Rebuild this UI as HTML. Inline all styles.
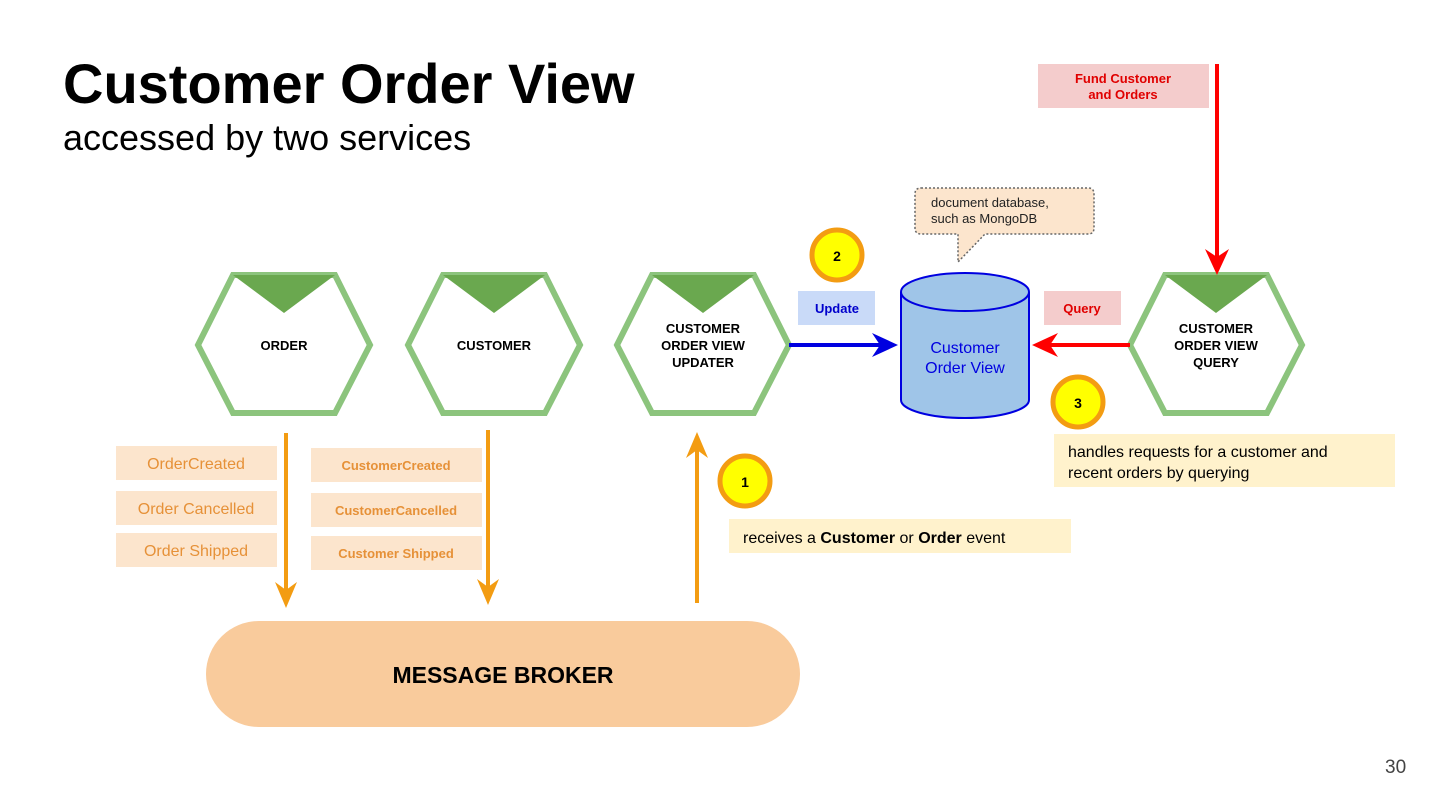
<!DOCTYPE html>
<html><head><meta charset="utf-8"><style>
body{margin:0;background:#fff;}
svg{display:block;font-family:"Liberation Sans",Arial,sans-serif;}
</style></head><body>
<svg width="1440" height="810" viewBox="0 0 1440 810" xmlns="http://www.w3.org/2000/svg">
<text x="63" y="103" font-size="56" font-weight="bold" fill="#000">Customer Order View</text>
<text x="63" y="150" font-size="36" fill="#000">accessed by two services</text>
<text x="1385" y="773" font-size="19" fill="#444">30</text>

<g stroke="#8cc47d" stroke-width="6" fill="#fff">
<polygon points="233,275 335,275 370,345 335,413 233,413 198,345"/>
<polygon points="443,275 545,275 580,345 545,413 443,413 408,345"/>
<polygon points="652,275 754,275 789,345 754,413 652,413 617,345"/>
<polygon points="1165,275 1267,275 1302,345 1267,413 1165,413 1130,345"/>
</g>
<g fill="#6aa84f">
<polygon points="233,275 335,275 284,313"/>
<polygon points="443,275 545,275 494,313"/>
<polygon points="652,275 754,275 703,313"/>
<polygon points="1165,275 1267,275 1216,313"/>
</g>
<g font-size="13" font-weight="bold" text-anchor="middle" fill="#000">
<text x="284" y="350">ORDER</text>
<text x="494" y="350">CUSTOMER</text>
<text x="703" y="333">CUSTOMER</text><text x="703" y="350">ORDER VIEW</text><text x="703" y="367">UPDATER</text>
<text x="1216" y="333">CUSTOMER</text><text x="1216" y="350">ORDER VIEW</text><text x="1216" y="367">QUERY</text>
</g>

<path d="M901,292 L901,400 A64,18 0 0 0 1029,400 L1029,292" fill="#9fc5e8" stroke="#0000e0" stroke-width="2"/>
<ellipse cx="965" cy="292" rx="64" ry="19" fill="#9fc5e8" stroke="#0000e0" stroke-width="2"/>
<text x="965" y="353" font-size="16" fill="#0000e0" text-anchor="middle">Customer</text>
<text x="965" y="373" font-size="16" fill="#0000e0" text-anchor="middle">Order View</text>

<path d="M921,188 L1088,188 Q1094,188 1094,194 L1094,228 Q1094,234 1088,234 L985,234 L958,262 L958,234 L921,234 Q915,234 915,228 L915,194 Q915,188 921,188 Z" fill="#fce5cd" stroke="#666" stroke-width="1.5" stroke-dasharray="2,2"/>
<text x="931" y="207" font-size="13" fill="#222">document database,</text>
<text x="931" y="223" font-size="13" fill="#222">such as MongoDB</text>

<rect x="798" y="291" width="77" height="34" fill="#c9daf8"/>
<text x="837" y="313" font-size="13" font-weight="bold" fill="#0000cc" text-anchor="middle">Update</text>
<line x1="789" y1="345" x2="885" y2="345" stroke="#0000e0" stroke-width="4"/>
<path d="M898,345 L872,333 L880,345 L872,357 Z" fill="#0000e0"/>

<rect x="1044" y="291" width="77" height="34" fill="#f4cccc"/>
<text x="1082" y="313" font-size="13" font-weight="bold" fill="#e00000" text-anchor="middle">Query</text>
<line x1="1130" y1="345" x2="1045" y2="345" stroke="#f00" stroke-width="4"/>
<path d="M1032,345 L1058,333 L1050,345 L1058,357 Z" fill="#f00"/>

<rect x="1038" y="64" width="171" height="44" fill="#f4cccc"/>
<text x="1123" y="83" font-size="13" font-weight="bold" fill="#e00000" text-anchor="middle">Fund Customer</text>
<text x="1123" y="99" font-size="13" font-weight="bold" fill="#e00000" text-anchor="middle">and Orders</text>
<line x1="1217" y1="64" x2="1217" y2="262" stroke="#f00" stroke-width="4"/>
<path d="M1217,275 L1205,249 L1217,257 L1229,249 Z" fill="#f00"/>

<g stroke="#f39c12" stroke-width="5" fill="#ffff00">
<circle cx="837" cy="255" r="25"/>
<circle cx="1078" cy="402" r="25"/>
<circle cx="745" cy="481" r="25"/>
</g>
<g font-size="14" font-weight="bold" text-anchor="middle" fill="#000">
<text x="837" y="261">2</text><text x="1078" y="408">3</text><text x="745" y="487">1</text>
</g>

<rect x="1054" y="434" width="341" height="53" fill="#fff2cc"/>
<text x="1068" y="457" font-size="16" fill="#000">handles requests for a customer and</text>
<text x="1068" y="478" font-size="16" fill="#000">recent orders by querying</text>
<rect x="729" y="519" width="342" height="34" fill="#fff2cc"/>
<text x="743" y="543" font-size="16" fill="#000">receives a <tspan font-weight="bold">Customer</tspan> or <tspan font-weight="bold">Order</tspan> event</text>

<g fill="#fce5cd">
<rect x="116" y="446" width="161" height="34"/><rect x="116" y="491" width="161" height="34"/><rect x="116" y="533" width="161" height="34"/>
<rect x="311" y="448" width="171" height="34"/><rect x="311" y="493" width="171" height="34"/><rect x="311" y="536" width="171" height="34"/>
</g>
<g font-weight="bold" fill="#e69138" text-anchor="middle">
<text x="196" y="469" font-size="16" font-weight="normal">OrderCreated</text>
<text x="196" y="514" font-size="16" font-weight="normal">Order Cancelled</text>
<text x="196" y="556" font-size="16" font-weight="normal">Order Shipped</text>
<text x="396" y="470" font-size="13">CustomerCreated</text>
<text x="396" y="515" font-size="13">CustomerCancelled</text>
<text x="396" y="558" font-size="13">Customer Shipped</text>
</g>

<g stroke="#f39c12" stroke-width="4">
<line x1="286" y1="433" x2="286" y2="595"/>
<line x1="488" y1="430" x2="488" y2="592"/>
<line x1="697" y1="603" x2="697" y2="445"/>
</g>
<path d="M286,608 L275,582 L286,590 L297,582 Z" fill="#f39c12"/>
<path d="M488,605 L477,579 L488,587 L499,579 Z" fill="#f39c12"/>
<path d="M697,432 L686,458 L697,450 L708,458 Z" fill="#f39c12"/>

<rect x="206" y="621" width="594" height="106" rx="53" ry="53" fill="#f9cb9c"/>
<text x="503" y="683" font-size="23" font-weight="bold" fill="#000" text-anchor="middle">MESSAGE BROKER</text>
</svg>
</body></html>
